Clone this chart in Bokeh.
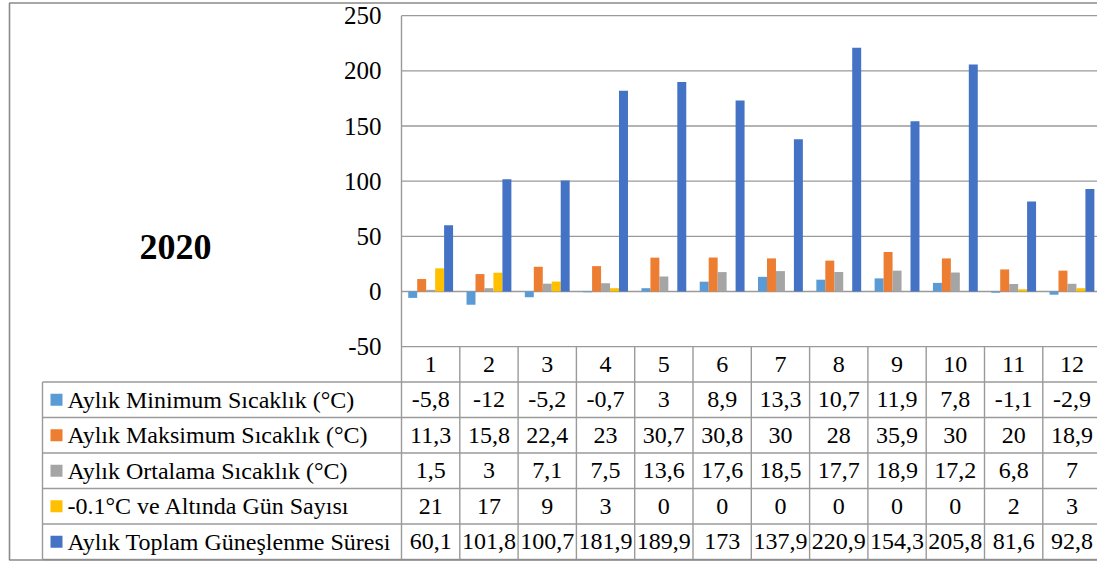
from bokeh.plotting import figure
from bokeh.models import Range1d, ColumnDataSource
from bokeh.core.properties import value
from bokeh.embed import file_html
from bokeh.resources import INLINE

# ---- data -------------------------------------------------------------
months = [1, 2, 3, 4, 5, 6, 7, 8, 9, 10, 11, 12]
min_temp = [-5.8, -12, -5.2, -0.7, 3, 8.9, 13.3, 10.7, 11.9, 7.8, -1.1, -2.9]
max_temp = [11.3, 15.8, 22.4, 23, 30.7, 30.8, 30, 28, 35.9, 30, 20, 18.9]
mean_temp = [1.5, 3, 7.1, 7.5, 13.6, 17.6, 18.5, 17.7, 18.9, 17.2, 6.8, 7]
frost_days = [21, 17, 9, 3, 0, 0, 0, 0, 0, 0, 2, 3]
sunshine = [60.1, 101.8, 100.7, 181.9, 189.9, 173, 137.9, 220.9, 154.3, 205.8, 81.6, 92.8]

series_names = [
    "Aylık Minimum Sıcaklık (°C)",
    "Aylık Maksimum Sıcaklık (°C)",
    "Aylık Ortalama Sıcaklık (°C)",
    " -0.1°C ve Altında Gün Sayısı",
    "Aylık Toplam Güneşlenme Süresi",
]
series_values = [min_temp, max_temp, mean_temp, frost_days, sunshine]
series_colors = ["#5B9BD5", "#ED7D31", "#A5A5A5", "#FFC000", "#4472C4"]

y_ticks = [-50, 0, 50, 100, 150, 200, 250]
title_text = "2020"

# ---- layout constants (pixels) ---------------------------------------
W, H = 1097, 561
X0 = 401            # left edge of the first month column
CAT_W = 58.3        # width of one month column
Y_ZERO = 291        # pixel row of value 0
PX_PER_VAL = 331 / 300
TABLE_TOP = 346
ROW_H = 35.5
LEGEND_LEFT = 42
GRID = "#9a9a9a"
FONT_NAME = "Liberation Serif"


def serif_text(**kw):
    kw.setdefault("text_font_style", "normal")
    kw.setdefault("text_color", "#000000")
    kw.setdefault("text_baseline", "middle")
    return p.text(text_font=value(FONT_NAME), **kw)


p = figure(
    width=W, height=H,
    x_range=Range1d(-X0 / CAT_W, (W - X0) / CAT_W),
    y_range=Range1d(-(H - Y_ZERO) / PX_PER_VAL, Y_ZERO / PX_PER_VAL),
    x_axis_location=None, y_axis_location=None,
    toolbar_location=None, output_backend="svg",
    min_border=0, outline_line_color=None,
)
p.grid.visible = False
p.extra_x_ranges = {"px": Range1d(0, W)}
p.extra_y_ranges = {"px": Range1d(H, 0),
                    "row": Range1d((H - TABLE_TOP) / ROW_H, -TABLE_TOP / ROW_H)}

n_cat = len(months)
n_ser = len(series_values)

# ---- horizontal gridlines and value axis -----------------------------
p.segment(x0=[0] * len(y_ticks), x1=[n_cat] * len(y_ticks), y0=y_ticks, y1=y_ticks,
          line_color=GRID, line_width=1.4)
p.segment(x0=[0], x1=[0], y0=[min(y_ticks)], y1=[max(y_ticks)],
          line_color=GRID, line_width=1.4)
serif_text(x=[0] * len(y_ticks), y=y_ticks, text=[str(t) for t in y_ticks],
           x_offset=-20, text_align="right", text_font_size="25px")

# ---- clustered bars (gap width 150 %) --------------------------------
bar_w = 1 / (n_ser + 1.5)
for k, (vals, col) in enumerate(zip(series_values, series_colors)):
    xs = [i + 0.5 + (k - (n_ser - 1) / 2) * bar_w for i in range(n_cat)]
    src = ColumnDataSource(dict(x=xs, top=vals))
    p.vbar(x="x", top="top", bottom=0, width=bar_w, source=src,
           fill_color=col, line_color=None)

# ---- data table ------------------------------------------------------
# vertical month-column separators
bounds = list(range(n_cat + 1))
p.segment(x0=bounds, x1=bounds, y0=[0] * len(bounds), y1=[n_ser + 1] * len(bounds),
          y_range_name="row", line_color=GRID, line_width=1.4)
# horizontal row separators below the header row
rows = list(range(1, n_ser + 2))
p.segment(x0=[LEGEND_LEFT] * len(rows), x1=[W + 10] * len(rows), y0=rows, y1=rows,
          x_range_name="px", y_range_name="row", line_color=GRID, line_width=1.4)
p.segment(x0=[LEGEND_LEFT], x1=[LEGEND_LEFT], y0=[1], y1=[n_ser + 1],
          x_range_name="px", y_range_name="row", line_color=GRID, line_width=1.4)

# month header
serif_text(x=[i + 0.5 for i in range(n_cat)], y=[0.5] * n_cat, text=[str(m) for m in months],
           y_range_name="row", text_align="center", text_font_size="24px")


def fmt(v):
    return str(int(v)) if float(v).is_integer() else str(v).replace(".", ",")


for k, (name, vals, col) in enumerate(zip(series_names, series_values, series_colors)):
    r = k + 1.5
    p.rect(x=[56], y=[r], width=12, height=12 / ROW_H, x_range_name="px", y_range_name="row",
           fill_color=col, line_color=None)
    serif_text(x=[67], y=[r], text=[name], x_range_name="px", y_range_name="row",
               text_align="left", text_font_size="24px")
    serif_text(x=[i + 0.5 for i in range(n_cat)], y=[r] * n_cat, text=[fmt(v) for v in vals],
               y_range_name="row", text_align="center", text_font_size="24px")

# ---- chart border and title -----------------------------------------
p.multi_line(xs=[[W + 10, 9, 9, W + 10]], ys=[[2.5, 2.5, 559.5, 559.5]],
             x_range_name="px", y_range_name="px", line_color="#8a8a8a", line_width=1.6)
serif_text(x=[175], y=[246], text=[title_text], x_range_name="px", y_range_name="px",
           text_align="center", text_font_size="36px", text_font_style="bold")

open("out.html", "w").write(file_html(p, INLINE))
